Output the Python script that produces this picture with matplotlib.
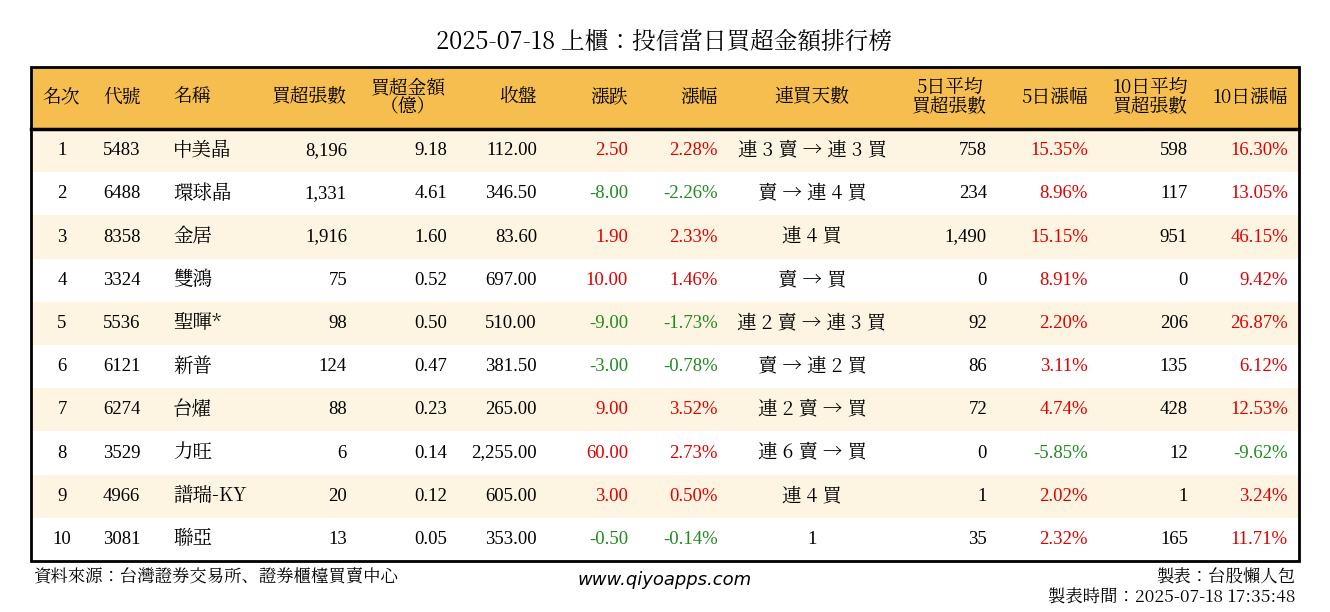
import matplotlib
matplotlib.use("Agg")
import matplotlib.pyplot as plt
from matplotlib.patches import Rectangle
from matplotlib import font_manager as fm

cands = [f for f in fm.fontManager.ttflist if "CJK" in f.name]
def score(f):
    s = 0
    if "TC" in f.name: s += 10
    w = f.weight if isinstance(f.weight, int) else 400
    s -= abs(w - 400) / 50
    if "Regular" in f.fname: s += 3
    if "Bold" in f.fname or "Black" in f.fname or "Medium" in f.fname: s -= 5
    return s
cands.sort(key=score, reverse=True)
CJK_FILE = cands[0].fname if cands else None
CJK_NAME = cands[0].name if cands else "Noto Sans CJK TC"
plt.rcParams["font.family"] = ["Liberation Serif", CJK_NAME]

title = "2025-07-18 上櫃：投信當日買超金額排行榜"
headers = ["名次", "代號", "名稱", "買超張數", "買超金額\n（億）", "收盤", "漲跌", "漲幅",
           "連買天數", "5日平均\n買超張數", "5日漲幅", "10日平均\n買超張數", "10日漲幅"]
rank = ["1", "2", "3", "4", "5", "6", "7", "8", "9", "10"]
code = ["5483", "6488", "8358", "3324", "5536", "6121", "6274", "3529", "4966", "3081"]
name = ["中美晶", "環球晶", "金居", "雙鴻", "聖暉*", "新普", "台燿", "力旺", "譜瑞-KY", "聯亞"]
net_lots = ["8,196", "1,331", "1,916", "75", "98", "124", "88", "6", "20", "13"]
net_amt = ["9.18", "4.61", "1.60", "0.52", "0.50", "0.47", "0.23", "0.14", "0.12", "0.05"]
close = ["112.00", "346.50", "83.60", "697.00", "510.00", "381.50", "265.00", "2,255.00", "605.00", "353.00"]
change = ["2.50", "-8.00", "1.90", "10.00", "-9.00", "-3.00", "9.00", "60.00", "3.00", "-0.50"]
pct = ["2.28%", "-2.26%", "2.33%", "1.46%", "-1.73%", "-0.78%", "3.52%", "2.73%", "0.50%", "-0.14%"]
streak = ["連 3 賣 → 連 3 買", "賣 → 連 4 買", "連 4 買", "賣 → 買", "連 2 賣 → 連 3 買",
          "賣 → 連 2 買", "連 2 賣 → 買", "連 6 賣 → 買", "連 4 買", "1"]
avg5 = ["758", "234", "1,490", "0", "92", "86", "72", "0", "1", "35"]
pct5 = ["15.35%", "8.96%", "15.15%", "8.91%", "2.20%", "3.11%", "4.74%", "-5.85%", "2.02%", "2.32%"]
avg10 = ["598", "117", "951", "0", "206", "135", "428", "12", "1", "165"]
pct10 = ["16.30%", "13.05%", "46.15%", "9.42%", "26.87%", "6.12%", "12.53%", "-9.62%", "3.24%", "11.71%"]

W, H = 1330, 612
fig = plt.figure(figsize=(W/100, H/100), dpi=100)
ax = fig.add_axes([0, 0, 1, 1])
ax.set_xlim(0, W); ax.set_ylim(H, 0); ax.axis("off")

def has_cjk(s):
    return any(ord(ch) > 0x2000 for ch in s)

def txt(x, y, s, size, **kw):
    if has_cjk(s):
        kw["fontproperties"] = fm.FontProperties(fname=CJK_FILE, size=size, weight="normal") if CJK_FILE else \
            fm.FontProperties(family="Noto Sans CJK TC", size=size)
        ax.text(x, y, s, **kw)
    else:
        ax.text(x, y, s, fontsize=size, **kw)

RED, GREEN = "#e00000", "#1f8a1f"
x0, x1, y0, hh, rh = 31, 1299, 67, 62, 43.2
ax.add_patch(Rectangle((x0, y0), x1-x0, hh, fc="#f6be4f", ec="none"))
for i in range(len(rank)):
    if i % 2 == 0:
        ax.add_patch(Rectangle((x0, y0+hh+i*rh), x1-x0, rh, fc="#fdf5e2", ec="none"))
ax.add_patch(Rectangle((x0, y0), x1-x0, hh+10*rh, fc="none", ec="black", lw=2))
ax.plot([x0, x1], [y0+hh, y0+hh], color="black", lw=2.5)

txt(664, 42, title, 17, ha="center", va="center")

hpos = [(42, "left"), (103, "left"), (173, "left"), (347, "right"), (408, "center"), (537, "right"),
        (628, "right"), (718, "right"), (812, "center"), (987, "right"), (1088, "right"),
        (1188, "right"), (1288, "right")]
for (x, a), h in zip(hpos, headers):
    txt(x, y0+hh/2, h, 13.5, ha=a, va="center", linespacing=0.95, multialignment="center")

cpos = [(62, "center"), (103, "left"), (173, "left"), (347, "right"), (447, "right"), (537, "right"),
        (628, "right"), (718, "right"), (812, "center"), (987, "right"), (1088, "right"),
        (1188, "right"), (1288, "right")]

def col(v):
    return GREEN if v.startswith("-") else RED

for i in range(len(rank)):
    y = y0 + hh + (i+0.5)*rh
    vals = [rank[i], code[i], name[i], net_lots[i], net_amt[i], close[i], change[i], pct[i],
            streak[i], avg5[i], pct5[i], avg10[i], pct10[i]]
    for j, ((x, a), v) in enumerate(zip(cpos, vals)):
        c = col(v) if j in (6, 7, 10, 12) else "black"
        txt(x, y, v, 13.5 if not has_cjk(v) else 14, ha=a, va="center", color=c)

txt(33, 577, "資料來源：台灣證券交易所、證券櫃檯買賣中心", 12.5, ha="left", va="center")
ax.text(665, 580, "www.qiyoapps.com", ha="center", va="center", fontsize=13, style="italic",
        family="DejaVu Sans")
txt(1295, 577, "製表：台股懶人包", 12.5, ha="right", va="center")
txt(1295, 598, "製表時間：2025-07-18 17:35:48", 12.5, ha="right", va="center")

fig.savefig("out.png", dpi=100)
